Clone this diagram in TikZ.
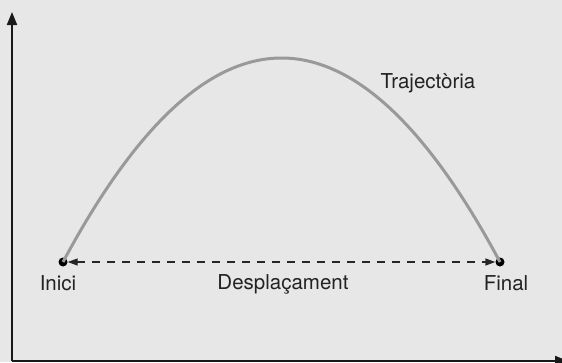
\documentclass[tikz,border=0pt]{standalone}
\usepackage{fontspec}
\setmainfont{TeX Gyre Heros}
\usetikzlibrary{arrows.meta}
\definecolor{bg}{HTML}{E6E7E6}
\definecolor{curvec}{HTML}{999999}
\definecolor{txt}{HTML}{222222}
\begin{document}
\begin{tikzpicture}[x=1pt,y=-1pt,
  lbl/.style={anchor=base,inner sep=0pt,text=txt,font=\fontsize{20.5}{24}\selectfont},
  dotnode/.style={circle,fill=black,inner sep=0pt,minimum size=9pt},
  axis/.style={line width=2pt,draw=black!90,-{Triangle[length=13pt,width=10pt]}},
  disp/.style={line width=1.4pt,draw=black!85,dash pattern=on 8pt off 7pt,{Triangle[length=10pt,width=7pt]}-{Triangle[length=10pt,width=7pt]}}
]
\fill[bg] (0,0) rectangle (562,362);
\useasboundingbox (0,0) rectangle (562,362);
\begin{scope}
\clip (0,0) rectangle (562,362);
\coordinate (o) at (12,361);
\coordinate (ytop) at (12,12);
\coordinate (xend) at (568,361);
\draw[axis] (o) -- (ytop);
\draw[axis] (o) -- (xend);
\node[dotnode] (i) at (63,262) {};
\node[dotnode] (f) at (500,262) {};
\draw[line width=3pt,curvec] (i.center) .. controls (208.67,-10) and (354.33,-10) .. (f.center);
\draw[disp] (i) -- (f);
\node[lbl] (li) at (58,290) {Inici};
\node[lbl] (lf) at (506,290) {Final};
\node[lbl] (ld) at (283,289) {Desplaçament};
\node[lbl] (lt) at (428,88) {Trajectòria};
\end{scope}
\end{tikzpicture}
\end{document}
